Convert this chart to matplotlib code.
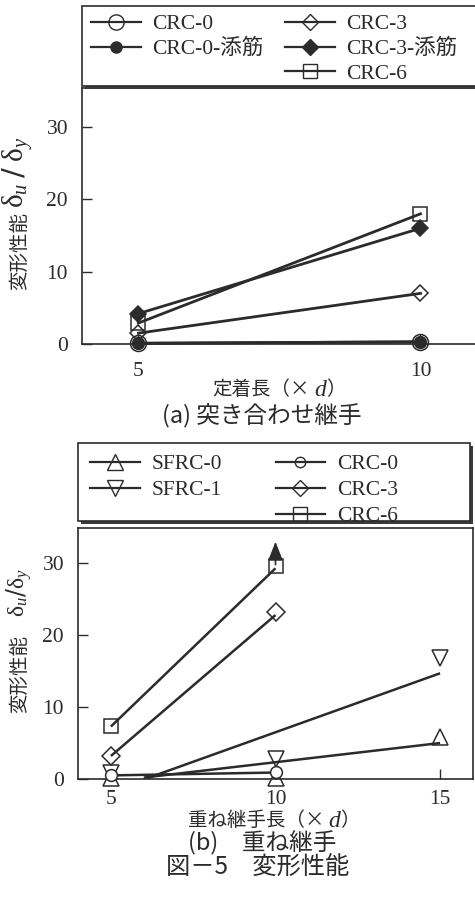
import matplotlib
matplotlib.use("Agg")
import matplotlib.pyplot as plt
from matplotlib.lines import Line2D
from matplotlib.patches import Rectangle

# ==========================================================
# FONT
# ==========================================================
plt.rcParams['font.family'] = ['Liberation Serif', 'Noto Sans CJK JP']
plt.rcParams['mathtext.fontset'] = 'custom'
plt.rcParams['mathtext.it'] = 'Liberation Serif:italic'
plt.rcParams['mathtext.sf'] = 'Liberation Serif'

INK = '#2b2b2b'
JP = 'Noto Sans CJK JP'

# ==========================================================
# DATA (a) 突き合わせ継手
# ==========================================================
a_x = [5, 10]
a_crc0 = [0.1, 0.3]
a_crc0_bar = [0.1, 0.3]
a_crc3 = [1.5, 7.0]
a_crc3_bar = [4.2, 16.0]
a_crc6 = [2.9, 18.0]

# ==========================================================
# DATA (b) 重ね継手  (points + trend lines)
# ==========================================================
b_x = [5, 10, 15]
b_sfrc0 = [0.2, 0.2, 5.8]
b_sfrc1 = [0.8, 2.8, 16.8]
b_crc_x = [5, 10]
b_crc0 = [0.5, 1.0]
b_crc3 = [3.2, 23.2]
b_crc6 = [7.4, 29.6]

fit_sfrc0_x, fit_sfrc0_y = [6.0, 15], [0.2, 5.0]
fit_sfrc1_x, fit_sfrc1_y = [6.1, 15], [0.1, 14.7]
fit_crc0_x, fit_crc0_y = [5, 10], [0.5, 0.9]
fit_crc3_x, fit_crc3_y = [5, 10], [3.2, 22.8]
fit_crc6_x, fit_crc6_y = [5, 10], [7.3, 29.3]

# CRC-6 at 10d exceeded the range -> arrow
arrow_x, arrow_from, arrow_to = 10, 29.8, 33.0

yticks = [0, 10, 20, 30]

# ==========================================================
# FIGURE
# ==========================================================
W, H = 475, 905
fig = plt.figure(figsize=(W / 100, H / 100), dpi=100)


def fx(px):
    return px / W


def fy(py):
    return 1 - py / H


def style_axes(ax, xticks, xpad):
    for s in ax.spines.values():
        s.set_color(INK)
        s.set_linewidth(1.2)
    ax.set_xticks(xticks)
    ax.set_yticks(yticks)
    ax.tick_params(direction='in', length=7, width=1.0, color=INK,
                   labelsize=15.5, labelcolor=INK, pad=10)
    ax.tick_params(axis='x', pad=xpad)


def legend_box(x0, y0, x1, y1):
    # shadow + frame, in pixels
    fig.patches.append(Rectangle((fx(x0 + 3), fy(y1 + 3)), (x1 - x0) / W,
                                 (y1 - y0) / H, transform=fig.transFigure,
                                 facecolor='#3a3a3a', edgecolor='none',
                                 zorder=1))
    fig.patches.append(Rectangle((fx(x0), fy(y1)), (x1 - x0) / W,
                                 (y1 - y0) / H, transform=fig.transFigure,
                                 facecolor='white', edgecolor=INK,
                                 linewidth=1.2, zorder=2))


def handle(marker, ms, filled):
    return Line2D([], [], color=INK, lw=1.6, marker=marker, markersize=ms,
                  markerfacecolor=INK if filled else 'none',
                  markeredgecolor=INK, markeredgewidth=1.0)


xlabels = []


def xlabel(ax, xc, yc, head):
    # 「...（×」 + italic d + 「）」
    t1 = fig.text(fx(xc), fy(yc), head, family=JP, fontsize=14,
                  ha='left', va='bottom', color=INK)
    t2 = ax.annotate('d', xy=(1, 0), xycoords=t1, xytext=(3, -1),
                     textcoords='offset points', ha='left', va='bottom',
                     family='Liberation Serif', style='italic', fontsize=17,
                     color=INK, annotation_clip=False)
    t3 = ax.annotate('）', xy=(1, 0), xycoords=t2, xytext=(0, 1),
                     textcoords='offset points', ha='left', va='bottom',
                     family=JP, fontsize=14, color=INK,
                     annotation_clip=False)
    xlabels.append((xc, yc, t1, t3))


blank = Line2D([], [], linestyle='none')

# ==========================================================
# (a)
# ==========================================================
ax1 = fig.add_axes([fx(82), fy(344), (478 - 82) / W, (344 - 88) / H])
ax1.set_xlim(4, 11.02)
ax1.set_ylim(0, 35.4)
style_axes(ax1, [5, 10], 13)

kw = dict(color=INK, lw=2.0, markeredgecolor=INK, markeredgewidth=1.1,
          clip_on=False)
ax1.plot(a_x, a_crc0, marker='o', ms=11.5, mfc='none', **kw)
ax1.plot(a_x, a_crc0_bar, marker='o', ms=8.5, mfc=INK, **kw)
ax1.plot(a_x, a_crc3, marker='D', ms=8.5, mfc='none', **kw)
ax1.plot(a_x, a_crc3_bar, marker='D', ms=8.5, mfc=INK, **kw)
ax1.plot(a_x, a_crc6, marker='s', ms=10.5, mfc='none', **kw)

legend_box(82, 6, 490, 86)
fig.legend([handle('o', 11, False), handle('o', 8, True), blank,
            handle('D', 8, False), handle('D', 8, True),
            handle('s', 10, False)],
           ['CRC-0', 'CRC-0-添筋', ' ', 'CRC-3', 'CRC-3-添筋', 'CRC-6'],
           ncol=2, loc='upper left', bbox_to_anchor=(fx(91), fy(14)),
           frameon=False, fontsize=15.5, handlelength=2.3,
           handletextpad=0.55, columnspacing=1.0, labelspacing=0.22,
           borderpad=0, borderaxespad=0, labelcolor=INK)

fig.text(fx(19), fy(212), '変形性能', rotation=90, rotation_mode='anchor',
         ha='right', va='center', family=JP, fontsize=14, color=INK)
fig.text(fx(19), fy(208), r'$\mathsf{δ}_u\;/\;\mathsf{δ}_y$', rotation=90,
         rotation_mode='anchor', ha='left', va='center', fontsize=21,
         color=INK)
xlabel(ax1, 279, 400, '定着長（×')
fig.text(fx(262), fy(415), '(a) 突き合わせ継手', ha='center', va='center',
         family=JP, fontsize=17, color=INK)

# ==========================================================
# (b)
# ==========================================================
ax2 = fig.add_axes([fx(78), fy(779), (473 - 78) / W, (779 - 528) / H])
ax2.set_xlim(4, 16)
ax2.set_ylim(0, 34.9)
style_axes(ax2, [5, 10, 15], 8)

lkw = dict(color=INK, lw=1.8, solid_capstyle='butt')
ax2.plot(fit_sfrc0_x, fit_sfrc0_y, **lkw)
ax2.plot(fit_sfrc1_x, fit_sfrc1_y, **lkw)
ax2.plot(fit_crc0_x, fit_crc0_y, **lkw)
ax2.plot(fit_crc3_x, fit_crc3_y, **lkw)
ax2.plot(fit_crc6_x, fit_crc6_y, **lkw)

mkw = dict(linestyle='none', markeredgecolor=INK, markeredgewidth=1.1,
           clip_on=False)
ax2.plot(b_x, b_sfrc0, marker='^', ms=12, mfc='none', **mkw)
ax2.plot(b_x, b_sfrc1, marker='v', ms=12, mfc='none', **mkw)
ax2.plot(b_crc_x, b_crc0, marker='o', ms=8.5, mfc='white', zorder=4, **mkw)
ax2.plot(b_crc_x, b_crc3, marker='D', ms=9, mfc='none', **mkw)
ax2.plot(b_crc_x, b_crc6, marker='s', ms=10, mfc='none', **mkw)

ax2.annotate('', xy=(arrow_x, arrow_to), xytext=(arrow_x, arrow_from),
             arrowprops=dict(arrowstyle='-|>,head_length=1.15,head_width=0.45',
                             color=INK, lw=1.2, shrinkA=0, shrinkB=0,
                             mutation_scale=10),
             annotation_clip=False)

legend_box(78, 443, 470, 521)
fig.legend([handle('^', 11, False), handle('v', 11, False), blank,
            handle('o', 7.5, False), handle('D', 8, False),
            handle('s', 10, False)],
           ['SFRC-0', 'SFRC-1', ' ', 'CRC-0', 'CRC-3', 'CRC-6'],
           ncol=2, loc='upper left', bbox_to_anchor=(fx(90), fy(454)),
           frameon=False, fontsize=15.5, handlelength=2.3,
           handletextpad=0.55, columnspacing=2.5, labelspacing=0.28,
           borderpad=0, borderaxespad=0, labelcolor=INK)

fig.text(fx(19), fy(635), '変形性能', rotation=90, rotation_mode='anchor',
         ha='right', va='center', family=JP, fontsize=14, color=INK)
fig.text(fx(19), fy(617), r'$\mathsf{δ}_u/\mathsf{δ}_y$', rotation=90,
         rotation_mode='anchor', ha='left', va='center', fontsize=17,
         color=INK)
xlabel(ax2, 274, 831, '重ね継手長（×')
fig.text(fx(262), fy(843), '(b)　重ね継手', ha='center', va='center',
         family=JP, fontsize=17, color=INK)
fig.text(fx(258), fy(868), '図－5　変形性能', ha='center', va='center',
         family=JP, fontsize=17.5, color=INK)

# centre the pieced x labels
fig.canvas.draw()
r = fig.canvas.get_renderer()
for xc, yc, t1, t3 in xlabels:
    x0 = t1.get_window_extent(r).x0
    x1 = t3.get_window_extent(r).x1
    t1.set_x(fx(xc) - (x1 - x0) / 2 / W)

fig.savefig('out.png', dpi=100)
